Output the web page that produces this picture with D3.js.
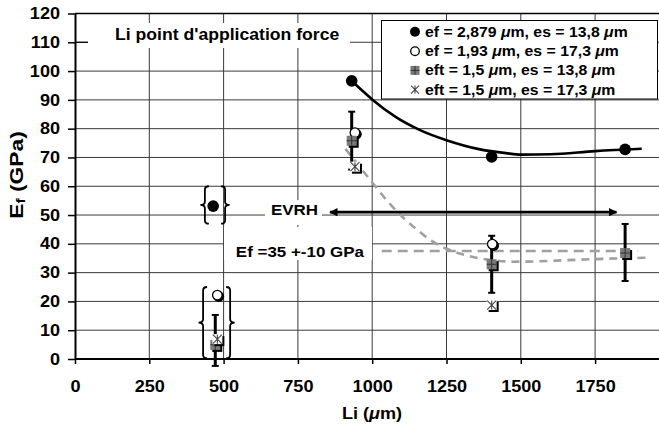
<!DOCTYPE html>
<html><head><meta charset="utf-8">
<script src="https://cdn.jsdelivr.net/npm/d3@7"></script>
<style>body{margin:0;background:#fff}svg{display:block;font-family:"Liberation Sans",Arial,sans-serif;font-weight:bold}</style>
</head><body><svg id="c" width="659" height="426"></svg>
<script>
// ---- data ----
const xTicks=[0,250,500,750,1000,1250,1500,1750];
const yTicks=[0,10,20,30,40,50,60,70,80,90,100,110,120];
const gridX=[250,500,750,1000,1250,1500,1750,2000];
const gridY=[10,20,30,40,50,60,70,80,90,100,110];
const liFilled=[465,931,1402,1851], efFilled=[53.1,96.6,70.2,72.8];
const liOpen=[479,942,1404], efOpen=[22.2,78.6,39.9];
const liSquare=[472,931,1402,1851], efSquare=[4.9,75.8,32.9,36.8];
const errLow=[-2.4,65.8,23.0,27.1], errHigh=[15.3,85.9,42.8,46.9];
const liStar=[479,942,1402], efStar=[6.9,66.8,18.75];
const trendBlackLi=[931,970,1003,1080,1161,1250,1363,1450,1500,1600,1750,1907];
const trendBlackEf=[96.6,92.9,89.9,84.0,79.5,76.0,72.8,71.5,71.0,71.1,72.2,73.0];
const trendGrayLi=[910,960,1000,1050,1100,1150,1200,1250,1300,1350,1400,1475,1550,1650,1750,1850,1935];
const trendGrayEf=[73,66.5,61.3,55,49.5,45,41,38.3,36.5,35.2,34.4,33.8,33.9,34.3,34.7,35,35.2];
const refLineLi=[1032,1895], refLineEf=[37.5,37.5];
const arrowLi=[858,1822], arrowEf=[51,51];
const braceLeftLi=[437,431], braceRightLi=[505,522], braceTopEf=[60,25], braceBottomEf=[47,0.3];
const legendLabels=["ef = 2,879 μm, es = 13,8 μm","ef = 1,93 μm, es = 17,3 μm","eft = 1,5 μm, es = 13,8 μm","eft = 1,5 μm, es = 17,3 μm"];
const titleText="Li point d'application force";
const evrhText="EVRH";
const efRangeText="Ef =35 +-10 GPa";
const xTitle="Li (μm)";

// ---- setup ----
const svg=d3.select("#c");
const X0=75, X1=669.4, Y0=359, Y1=13.5;
const x=d3.scaleLinear().domain([0,2000]).range([X0,X1]);
const y=d3.scaleLinear().domain([0,120]).range([Y0,Y1]);
const SX=1.13;

function addText(parent,px,py,str,size,anchor){
  const t=parent.append("text").attr("x",px/SX).attr("y",py)
    .attr("transform",`scale(${SX},1)`).attr("font-size",size)
    .attr("text-anchor",anchor||"start").attr("fill","#000");
  str.split(/(μ)/).forEach(p=>{
    if(!p) return;
    if(p==="μ") t.append("tspan").attr("font-style","italic").text("μ");
    else t.append("tspan").text(p);
  });
  return t;
}

// grid
const grid=svg.append("g").attr("stroke","#3a3a3a").attr("stroke-width",1);
grid.selectAll(".gx").data(gridX).join("line").attr("x1",d=>x(d)).attr("x2",d=>x(d)).attr("y1",Y1).attr("y2",Y0);
grid.selectAll(".gy").data(gridY).join("line").attr("x1",X0).attr("x2",X1).attr("y1",d=>y(d)).attr("y2",d=>y(d));
svg.append("line").attr("x1",X0).attr("x2",X1).attr("y1",Y1).attr("y2",Y1).attr("stroke","#000").attr("stroke-width",1.5);

// white label boxes
svg.append("rect").attr("x",88).attr("y",23).attr("width",262).attr("height",25).attr("fill","#fff");
svg.append("rect").attr("x",265).attr("y",200).attr("width",57).attr("height",25).attr("fill","#fff");
svg.append("rect").attr("x",224).attr("y",227).attr("width",148).attr("height",33).attr("fill","#fff");

// axes
const ax=svg.append("g").attr("transform",`translate(0,${Y0})`)
  .call(d3.axisBottom(x).tickValues(xTicks).tickSize(5).tickSizeOuter(0).tickPadding(17).tickFormat(d3.format("d")));
const ay=svg.append("g").attr("transform",`translate(${X0},0)`)
  .call(d3.axisLeft(y).tickValues(yTicks).tickSize(7).tickSizeOuter(0).tickPadding(8));
[ax,ay].forEach(a=>{
  a.select(".domain").attr("stroke","#000").attr("stroke-width",2);
  a.selectAll(".tick line").attr("stroke","#000").attr("stroke-width",1.5);
  a.selectAll(".tick text").attr("font-size",16).attr("font-weight","bold").attr("font-family","Liberation Sans, Arial, sans-serif").attr("fill","#000");
});
ax.select(".domain").attr("d",`M${X0},0H${X1}`);
ax.append("line").attr("x1",x(2000)).attr("x2",x(2000)).attr("y1",0).attr("y2",5).attr("stroke","#000").attr("stroke-width",1.5);
ax.selectAll(".tick text").attr("transform",`scale(${SX},1)`);
ay.selectAll(".tick text").attr("x",-15/SX).attr("transform",`scale(${SX},1)`);
svg.append("line").attr("x1",X0).attr("x2",88).attr("y1",y(110)).attr("y2",y(110)).attr("stroke","#000").attr("stroke-width",1.2);

// axis titles
addText(svg,372,419,xTitle,16,"middle");
svg.append("g").attr("transform","translate(23,175) rotate(-90) scale(1.2,1)").call(g=>{
  const t=g.append("text").attr("text-anchor","middle").attr("font-size",19);
  t.append("tspan").text("E");
  t.append("tspan").attr("font-size",13).attr("dy",2).text("f");
  t.append("tspan").attr("dy",-2).text(" (GPa)");
});

// curves
const pts=(a,b)=>a.map((v,i)=>[v,b[i]]);
const line=d3.line().x(d=>x(d[0])).y(d=>y(d[1])).curve(d3.curveMonotoneX);
svg.append("path").attr("d",line(pts(trendGrayLi,trendGrayEf))).attr("fill","none").attr("stroke","#a0a0a0").attr("stroke-width",2.6).attr("stroke-dasharray","8,6");
svg.append("path").attr("d",d3.line().x(d=>x(d[0])).y(d=>y(d[1]))(pts(refLineLi,refLineEf))).attr("fill","none").attr("stroke","#a0a0a0").attr("stroke-width",2.6).attr("stroke-dasharray","10,6");
svg.append("path").attr("d",line(pts(trendBlackLi,trendBlackEf))).attr("fill","none").attr("stroke","#000").attr("stroke-width",2.6);

// arrow
const defs=svg.append("defs");
defs.append("marker").attr("id","ah").attr("viewBox","0 0 10 10").attr("refX",9).attr("refY",5)
  .attr("markerWidth",4).attr("markerHeight",3.2).attr("markerUnits","strokeWidth").attr("orient","auto-start-reverse")
  .append("path").attr("d","M0,0L10,5L0,10Z").attr("fill","#000");
svg.append("line").attr("x1",x(arrowLi[0])).attr("x2",x(arrowLi[1])).attr("y1",y(arrowEf[0])).attr("y2",y(arrowEf[1]))
  .attr("stroke","#000").attr("stroke-width",2.6).attr("marker-start","url(#ah)").attr("marker-end","url(#ah)");

// braces
function brace(xs,yt,yb,dir){
  const tip=xs+dir*4.5, hook=xs-dir*4, r=3.5, ym=(yt+yb)/2;
  return `M${hook},${yt} Q${xs},${yt} ${xs},${yt+r} L${xs},${ym-r} Q${xs},${ym} ${tip},${ym} Q${xs},${ym} ${xs},${ym+r} L${xs},${yb-r} Q${xs},${yb} ${hook},${yb}`;
}
braceLeftLi.forEach((v,i)=>{
  svg.append("path").attr("d",brace(x(v),y(braceTopEf[i]),y(braceBottomEf[i]),-1)).attr("fill","none").attr("stroke","#000").attr("stroke-width",1.8);
  svg.append("path").attr("d",brace(x(braceRightLi[i]),y(braceTopEf[i]),y(braceBottomEf[i]),1)).attr("fill","none").attr("stroke","#000").attr("stroke-width",1.8);
});

// error bars
const eb=svg.append("g").attr("stroke","#000");
liSquare.forEach((v,i)=>{
  const cx=x(v);
  eb.append("line").attr("x1",cx).attr("x2",cx).attr("y1",y(errLow[i])).attr("y2",y(errHigh[i])).attr("stroke-width",3);
  [errLow[i],errHigh[i]].forEach(e=>eb.append("line").attr("x1",cx-3.5).attr("x2",cx+3.5).attr("y1",y(e)).attr("y2",y(e)).attr("stroke-width",2));
});

// markers
function filledCircle(g,cx,cy,r){g.append("circle").attr("cx",cx).attr("cy",cy).attr("r",r).attr("fill","#000");}
function openCircle(g,cx,cy,r,sh){
  if(sh) g.append("circle").attr("cx",cx+1.5).attr("cy",cy+1.5).attr("r",r+0.5).attr("fill","#000");
  g.append("circle").attr("cx",cx).attr("cy",cy).attr("r",r).attr("fill","#fff").attr("stroke","#000").attr("stroke-width",1.3);
}
function squareM(g,cx,cy,s,sh){
  if(sh) g.append("rect").attr("x",cx-s/2+2).attr("y",cy-s/2+2).attr("width",s).attr("height",s).attr("fill","#000");
  g.append("rect").attr("x",cx-s/2).attr("y",cy-s/2).attr("width",s).attr("height",s).attr("fill","#7a7a7a");
  g.append("path").attr("d",`M${cx-s/2},${cy}H${cx+s/2}M${cx},${cy-s/2}V${cy+s/2}`).attr("stroke","#333").attr("stroke-width",1);
}
function starM(g,cx,cy,s,sh){
  if(sh){ g.append("rect").attr("x",cx-s/2+2).attr("y",cy-s/2+2).attr("width",s).attr("height",s).attr("fill","#000");
  g.append("rect").attr("x",cx-s/2).attr("y",cy-s/2).attr("width",s).attr("height",s).attr("fill","#fff");}
  const h=s/2-0.5;
  g.append("path").attr("d",`M${cx-h},${cy-h}L${cx+h},${cy+h}M${cx+h},${cy-h}L${cx-h},${cy+h}M${cx},${cy-h}V${cy+h}`)
    .attr("stroke","#444").attr("stroke-width",1.1).attr("fill","none");
}
const mk=svg.append("g");
liFilled.forEach((v,i)=>filledCircle(mk,x(v),y(efFilled[i]),5.8));
liOpen.forEach((v,i)=>openCircle(mk,x(v),y(efOpen[i]),4.8,true));
liSquare.forEach((v,i)=>squareM(mk,x(v),y(efSquare[i]),10,true));
liStar.forEach((v,i)=>starM(mk,x(v),y(efStar[i]),10,true));

// legend
const lg=svg.append("g");
lg.append("rect").attr("x",381.5).attr("y",20.5).attr("width",276).attr("height",78.5).attr("fill","#fff").attr("stroke","#000").attr("stroke-width",1);
const rowY=[31.7,51.2,70.4,89.6];
legendLabels.forEach((s,i)=>{
  const cy=rowY[i], cx=415;
  if(i===0) filledCircle(lg,cx,cy,5);
  if(i===1) openCircle(lg,cx,cy,4.3,false);
  if(i===2) squareM(lg,cx,cy,9,false);
  if(i===3) starM(lg,cx,cy,9,false);
  addText(lg,425,cy+5,s,14,"start");
});

// annotations
addText(svg,115,40,titleText,15.6,"start");
addText(svg,318,215,evrhText,15,"end");
addText(svg,364,257,efRangeText,15,"end");
</script></body></html>
